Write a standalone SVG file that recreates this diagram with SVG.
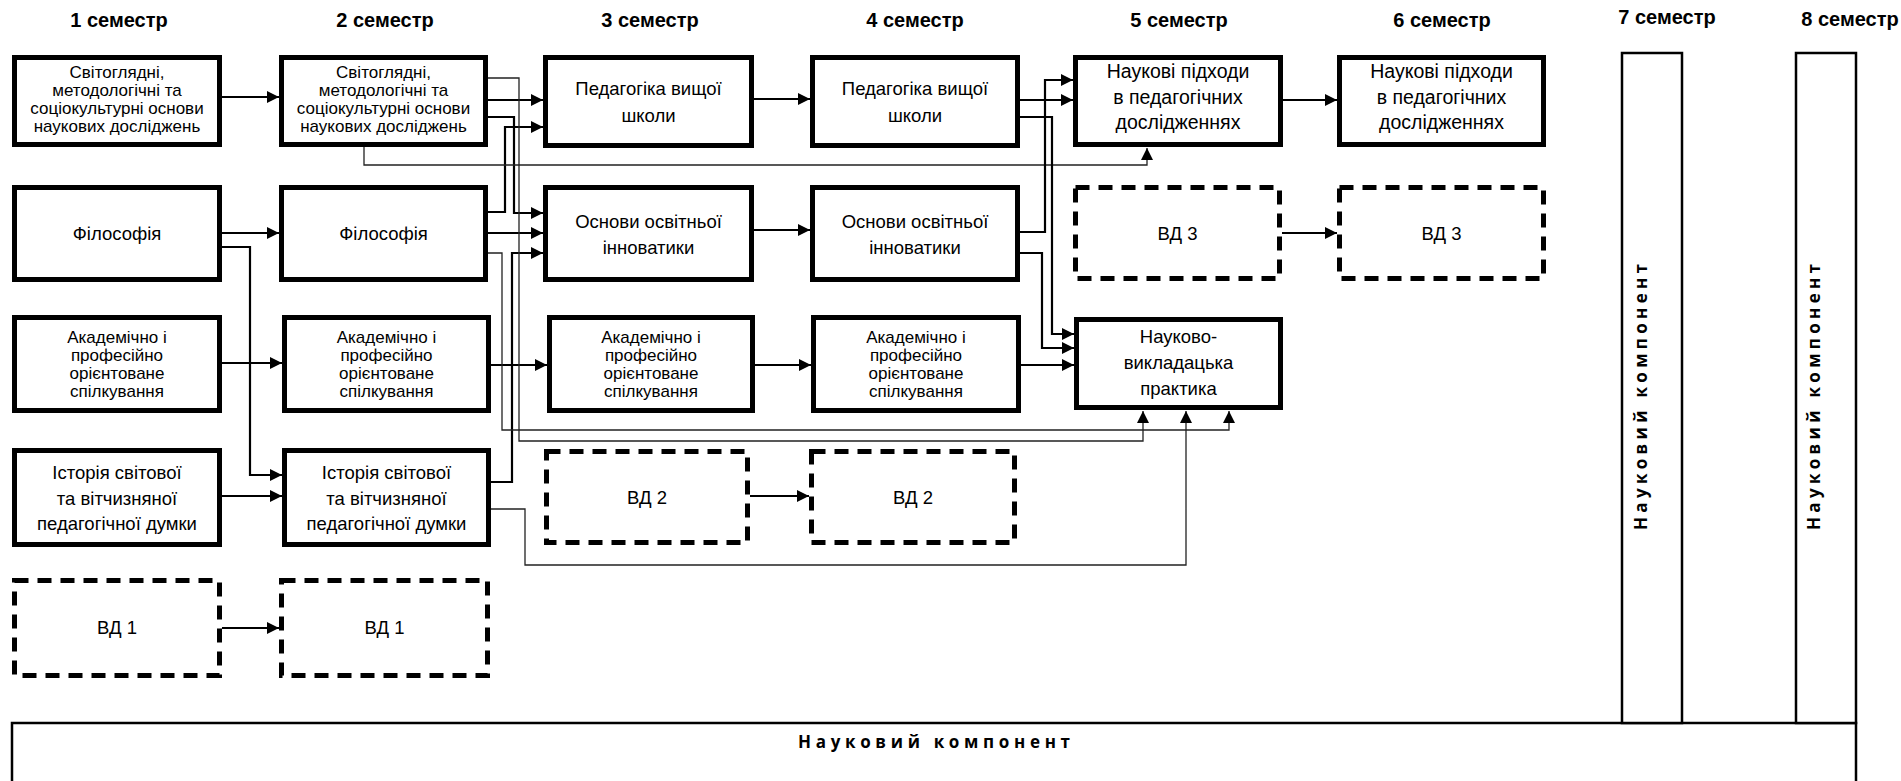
<svg xmlns="http://www.w3.org/2000/svg" width="1901" height="781" viewBox="0 0 1901 781">
<style>
.bg{fill:#fff}
.box{fill:#fff;stroke:#000;stroke-width:5}
.dbox{fill:#fff;stroke:#000;stroke-width:5;stroke-dasharray:14 9}
.col{fill:#fff;stroke:#000;stroke-width:2.5}
.hd{font-family:"Liberation Sans",Arial,sans-serif;font-weight:bold;font-size:20px;text-anchor:middle;fill:#000}
.t{font-family:"Liberation Sans",Arial,sans-serif;font-size:18.5px;text-anchor:middle;fill:#000}
.tb{font-family:"Liberation Sans",Arial,sans-serif;font-size:19.5px;text-anchor:middle;fill:#000}
.s{font-family:"Liberation Sans",Arial,sans-serif;font-size:17px;text-anchor:middle;fill:#000}
.nk{font-family:"Open Sans","Liberation Sans",sans-serif;font-weight:bold;font-size:17px;text-anchor:middle;fill:#000}
.c{fill:none;stroke:#000;stroke-width:2.2;marker-end:url(#ah)}
.ct{fill:none;stroke:#222;stroke-width:1.3;marker-end:url(#ah)}
</style>
<defs>
<marker id="ah" markerUnits="userSpaceOnUse" markerWidth="12" markerHeight="12" refX="12" refY="6" orient="auto">
<path d="M0,0 L12,6 L0,12 z" fill="#000"/>
</marker>
</defs>
<rect class="bg" x="0" y="0" width="1901" height="781"/>

<g id="headers">
<text class="hd" x="119" y="27">1 семестр</text>
<text class="hd" x="385" y="27">2 семестр</text>
<text class="hd" x="650" y="27">3 семестр</text>
<text class="hd" x="915" y="27">4 семестр</text>
<text class="hd" x="1179" y="27">5 семестр</text>
<text class="hd" x="1442" y="27">6 семестр</text>
<text class="hd" x="1667" y="24">7 семестр</text>
<text class="hd" x="1850" y="26">8 семестр</text>
</g>

<g id="connectors">
<path class="c" d="M222,97 H279"/>
<path class="c" d="M222,233 H279"/>
<path class="c" d="M222,247 H250 V475 H282"/>
<path class="c" d="M222,363 H282"/>
<path class="c" d="M222,496 H282"/>
<path class="c" d="M222,628 H279"/>
<path class="c" d="M488,100 H543"/>
<path class="c" d="M488,117 H514 V213 H543"/>
<path class="c" d="M488,212 H505 V127 H543"/>
<path class="c" d="M488,233 H543"/>
<path class="c" d="M491,482 H512 V253 H543"/>
<path class="c" d="M491,365 H547"/>
<path class="ct" d="M364,147 V165 H1147 V148"/>
<path class="ct" d="M488,78 H519 V441 H1143 V411"/>
<path class="ct" d="M488,253 H502 V430 H1229 V411"/>
<path class="ct" d="M491,509 H525 V565 H1186 V411"/>
<path class="c" d="M754,99 H810"/>
<path class="c" d="M754,230 H810"/>
<path class="c" d="M755,365 H811"/>
<path class="c" d="M750,496 H809"/>
<path class="c" d="M1020,100 H1073"/>
<path class="c" d="M1020,117 H1052 V334 H1074"/>
<path class="c" d="M1020,232 H1045 V80 H1073"/>
<path class="c" d="M1020,253 H1042 V348 H1074"/>
<path class="c" d="M1021,365 H1074"/>
<path class="c" d="M1283,100 H1337"/>
<path class="c" d="M1282,233 H1337"/>
</g>

<g id="n1-svit">
<rect class="box" x="14.5" y="57.5" width="205" height="87"/>
<text class="s" x="117"><tspan x="117" y="78">Світоглядні,</tspan><tspan x="117" y="96">методологічні та</tspan><tspan x="117" y="114">соціокультурні основи</tspan><tspan x="117" y="132">наукових досліджень</tspan></text>
</g>
<g id="n1-fil">
<rect class="box" x="14.5" y="187.5" width="205" height="92"/>
<text class="t" x="117" y="240">Філософія</text>
</g>
<g id="n1-akad">
<rect class="box" x="14.5" y="317.5" width="205" height="93"/>
<text class="s" x="117"><tspan x="117" y="343">Академічно і</tspan><tspan x="117" y="361">професійно</tspan><tspan x="117" y="379">орієнтоване</tspan><tspan x="117" y="397">спілкування</tspan></text>
</g>
<g id="n1-ist">
<rect class="box" x="14.5" y="450.5" width="205" height="94"/>
<text class="t" x="117"><tspan x="117" y="478.5">Історія світової</tspan><tspan x="117" y="504.5">та вітчизняної</tspan><tspan x="117" y="530">педагогічної думки</tspan></text>
</g>
<g id="n1-vd1">
<rect class="dbox" x="14.5" y="580.5" width="205" height="95"/>
<text class="t" x="117" y="634">ВД 1</text>
</g>

<g id="n2-svit">
<rect class="box" x="281.5" y="57.5" width="204" height="87"/>
<text class="s" x="383.5"><tspan x="383.5" y="78">Світоглядні,</tspan><tspan x="383.5" y="96">методологічні та</tspan><tspan x="383.5" y="114">соціокультурні основи</tspan><tspan x="383.5" y="132">наукових досліджень</tspan></text>
</g>
<g id="n2-fil">
<rect class="box" x="281.5" y="187.5" width="204" height="92"/>
<text class="t" x="383.5" y="240">Філософія</text>
</g>
<g id="n2-akad">
<rect class="box" x="284.5" y="317.5" width="204" height="93"/>
<text class="s" x="386.5"><tspan x="386.5" y="343">Академічно і</tspan><tspan x="386.5" y="361">професійно</tspan><tspan x="386.5" y="379">орієнтоване</tspan><tspan x="386.5" y="397">спілкування</tspan></text>
</g>
<g id="n2-ist">
<rect class="box" x="284.5" y="450.5" width="204" height="94"/>
<text class="t" x="386.5"><tspan x="386.5" y="478.5">Історія світової</tspan><tspan x="386.5" y="504.5">та вітчизняної</tspan><tspan x="386.5" y="530">педагогічної думки</tspan></text>
</g>
<g id="n2-vd1">
<rect class="dbox" x="281.5" y="580.5" width="206" height="95"/>
<text class="t" x="384.5" y="634">ВД 1</text>
</g>

<g id="n3-ped">
<rect class="box" x="545.5" y="57.5" width="206" height="88"/>
<text class="t" x="648.5"><tspan x="648.5" y="95">Педагогіка вищої</tspan><tspan x="648.5" y="121.5">школи</tspan></text>
</g>
<g id="n3-osn">
<rect class="box" x="545.5" y="187.5" width="206" height="92"/>
<text class="t" x="648.5"><tspan x="648.5" y="227.5">Основи освітньої</tspan><tspan x="648.5" y="253.5">інноватики</tspan></text>
</g>
<g id="n3-akad">
<rect class="box" x="549.5" y="317.5" width="203" height="93"/>
<text class="s" x="651"><tspan x="651" y="343">Академічно і</tspan><tspan x="651" y="361">професійно</tspan><tspan x="651" y="379">орієнтоване</tspan><tspan x="651" y="397">спілкування</tspan></text>
</g>
<g id="n3-vd2">
<rect class="dbox" x="546.5" y="451.5" width="201" height="91"/>
<text class="t" x="647" y="503.5">ВД 2</text>
</g>

<g id="n4-ped">
<rect class="box" x="812.5" y="57.5" width="205" height="88"/>
<text class="t" x="915"><tspan x="915" y="95">Педагогіка вищої</tspan><tspan x="915" y="121.5">школи</tspan></text>
</g>
<g id="n4-osn">
<rect class="box" x="812.5" y="187.5" width="205" height="92"/>
<text class="t" x="915"><tspan x="915" y="227.5">Основи освітньої</tspan><tspan x="915" y="253.5">інноватики</tspan></text>
</g>
<g id="n4-akad">
<rect class="box" x="813.5" y="317.5" width="205" height="93"/>
<text class="s" x="916"><tspan x="916" y="343">Академічно і</tspan><tspan x="916" y="361">професійно</tspan><tspan x="916" y="379">орієнтоване</tspan><tspan x="916" y="397">спілкування</tspan></text>
</g>
<g id="n4-vd2">
<rect class="dbox" x="811.5" y="451.5" width="203" height="91"/>
<text class="t" x="913" y="503.5">ВД 2</text>
</g>

<g id="n5-nauk">
<rect class="box" x="1075.5" y="57.5" width="205" height="87"/>
<text class="tb" x="1178"><tspan x="1178" y="78">Наукові підходи</tspan><tspan x="1178" y="103.5">в педагогічних</tspan><tspan x="1178" y="129">дослідженнях</tspan></text>
</g>
<g id="n5-vd3">
<rect class="dbox" x="1075.5" y="187.5" width="204" height="91"/>
<text class="t" x="1177.5" y="239.5">ВД 3</text>
</g>
<g id="n5-nvp">
<rect class="box" x="1076.5" y="319.5" width="204" height="88"/>
<text class="t" x="1178.5"><tspan x="1178.5" y="342.5">Науково-</tspan><tspan x="1178.5" y="368.5">викладацька</tspan><tspan x="1178.5" y="394.5">практика</tspan></text>
</g>

<g id="n6-nauk">
<rect class="box" x="1339.5" y="57.5" width="204" height="87"/>
<text class="tb" x="1441.5"><tspan x="1441.5" y="78">Наукові підходи</tspan><tspan x="1441.5" y="103.5">в педагогічних</tspan><tspan x="1441.5" y="129">дослідженнях</tspan></text>
</g>
<g id="n6-vd3">
<rect class="dbox" x="1339.5" y="187.5" width="204" height="91"/>
<text class="t" x="1441.5" y="239.5">ВД 3</text>
</g>

<g id="n-bottom">
<rect class="col" x="12" y="723" width="1844" height="80"/>
<text class="nk" x="934" y="748" textLength="272" lengthAdjust="spacing">Науковий компонент</text>
</g>
<g id="n7">
<rect class="col" x="1622" y="53" width="60" height="670"/>
<text class="nk" transform="translate(1647,397) rotate(-90)" x="0" y="0" textLength="266" lengthAdjust="spacing">Науковий компонент</text>
</g>
<g id="n8">
<rect class="col" x="1796" y="53" width="60" height="670"/>
<text class="nk" transform="translate(1820,397) rotate(-90)" x="0" y="0" textLength="266" lengthAdjust="spacing">Науковий компонент</text>
</g>
</svg>
